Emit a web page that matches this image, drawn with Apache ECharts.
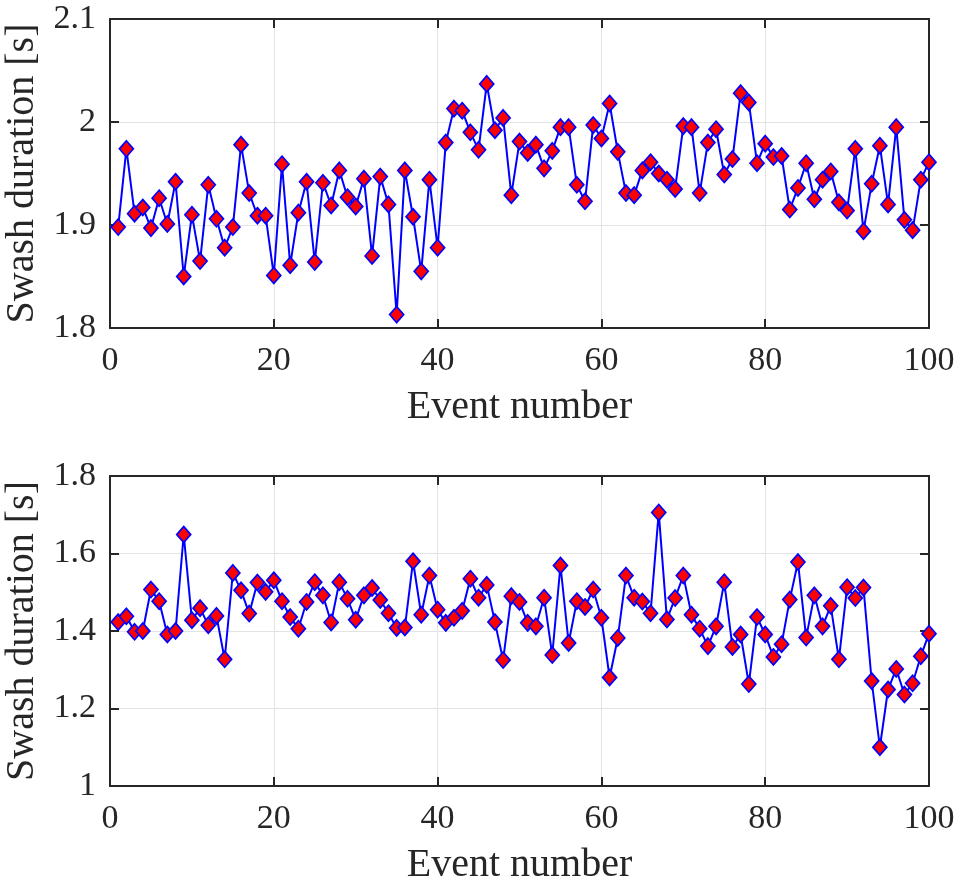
<!DOCTYPE html>
<html>
<head>
<meta charset="utf-8">
<script src="https://cdn.jsdelivr.net/npm/echarts@6/dist/echarts.min.js"></script>
<style>
html,body{margin:0;padding:0;background:#fff;}
#chart{width:960px;height:886px;}
</style>
</head>
<body>
<div id="chart"></div>
<script>
// Swash duration per event, upper panel
var topValues = [
1.898,1.974,1.911,1.917,1.897,1.926,1.901,1.942,1.850,1.910,
1.865,1.939,1.906,1.878,1.898,1.978,1.931,1.909,1.909,1.851,
1.959,1.861,1.912,1.942,1.864,1.941,1.919,1.953,1.927,1.918,
1.945,1.870,1.947,1.920,1.813,1.953,1.908,1.855,1.944,1.878,
1.980,2.013,2.011,1.990,1.973,2.037,1.992,2.004,1.929,1.981,
1.970,1.978,1.955,1.972,1.995,1.995,1.939,1.923,1.997,1.984,
2.018,1.971,1.931,1.929,1.953,1.961,1.950,1.944,1.935,1.996,
1.995,1.931,1.980,1.993,1.949,1.964,2.028,2.019,1.960,1.979,
1.966,1.967,1.915,1.936,1.960,1.925,1.944,1.952,1.922,1.914,
1.974,1.894,1.940,1.977,1.920,1.995,1.905,1.895,1.944,1.961
];
// Swash duration per event, lower panel
var bottomValues = [
1.423,1.438,1.398,1.400,1.507,1.477,1.391,1.400,1.649,1.428,
1.459,1.415,1.439,1.327,1.550,1.505,1.445,1.525,1.501,1.531,
1.477,1.436,1.406,1.475,1.526,1.492,1.422,1.526,1.483,1.429,
1.492,1.511,1.480,1.446,1.408,1.409,1.580,1.442,1.543,1.455,
1.421,1.434,1.452,1.535,1.486,1.519,1.423,1.325,1.490,1.475,
1.421,1.412,1.486,1.338,1.569,1.369,1.477,1.462,1.507,1.434,
1.280,1.382,1.543,1.486,1.476,1.446,1.706,1.430,1.485,1.543,
1.442,1.406,1.361,1.412,1.526,1.359,1.391,1.263,1.436,1.391,
1.333,1.366,1.481,1.578,1.383,1.492,1.412,1.465,1.327,1.513,
1.485,1.512,1.271,1.100,1.249,1.302,1.236,1.265,1.335,1.393
];
var xTicks = [0, 20, 40, 60, 80, 100];
var topYTicks = [1.8, 1.9, 2.0, 2.1];
var bottomYTicks = [1.0, 1.2, 1.4, 1.6, 1.8];

function pairs(vals){ return vals.map(function(v,i){ return [i+1, v]; }); }

var FONT = "'Liberation Serif','Times New Roman',serif";
var AX = '#262626';
var GRIDC = '#e3e3e3';

function xAx(gi, main){
  return {
    type:'value', gridIndex:gi, position: main?'bottom':'top',
    min:xTicks[0], max:xTicks[xTicks.length-1], interval:xTicks[1]-xTicks[0],
    name: main?'Event number':'', nameLocation:'middle', nameGap:59,
    nameTextStyle:{fontFamily:FONT, fontSize:40, color:AX},
    axisLine:{show:true, onZero:false, lineStyle:{color:AX, width:2}},
    axisTick:{show:true, inside:true, length:9, lineStyle:{color:AX, width:2}},
    axisLabel:{show:main, margin:16, fontFamily:FONT, fontSize:34, color:AX},
    splitLine:{show:main, lineStyle:{color:GRIDC, width:1}}
  };
}
function yAx(gi, main, ticks){
  return {
    type:'value', gridIndex:gi, position: main?'left':'right',
    min:ticks[0], max:ticks[ticks.length-1], interval:Math.round((ticks[1]-ticks[0])*10)/10,
    name: main?'Swash duration [s]':'', nameLocation:'middle', nameGap:66,
    nameTextStyle:{fontFamily:FONT, fontSize:40, color:AX},
    axisLine:{show:true, onZero:false, lineStyle:{color:AX, width:2}},
    axisTick:{show:true, inside:true, length:9, lineStyle:{color:AX, width:2}},
    axisLabel:{show:main, margin:14, fontFamily:FONT, fontSize:34, color:AX},
    splitLine:{show:main, lineStyle:{color:GRIDC, width:1}}
  };
}
function ser(xi, yi, vals){
  return {
    type:'line', xAxisIndex:xi, yAxisIndex:yi, data:pairs(vals),
    symbol:'diamond', symbolSize:[14,16], showAllSymbol:true, clip:false,
    lineStyle:{color:'#0000ff', width:2},
    itemStyle:{color:'#ff0000', borderColor:'#0000ff', borderWidth:1.7},
    animation:false, silent:true
  };
}

var chart = echarts.init(document.getElementById('chart'), null, {renderer:'canvas'});
chart.setOption({
  backgroundColor:'#ffffff',
  animation:false,
  grid:[
    {left:110, right:31, top:19, height:309, outerBoundsMode:'none', containLabel:false},
    {left:110, right:31, top:476, height:310, outerBoundsMode:'none', containLabel:false}
  ],
  xAxis:[xAx(0,true), xAx(0,false), xAx(1,true), xAx(1,false)],
  yAxis:[yAx(0,true,topYTicks), yAx(0,false,topYTicks), yAx(1,true,bottomYTicks), yAx(1,false,bottomYTicks)],
  series:[ser(0,0,topValues), ser(2,2,bottomValues)]
});
</script>
</body>
</html>
